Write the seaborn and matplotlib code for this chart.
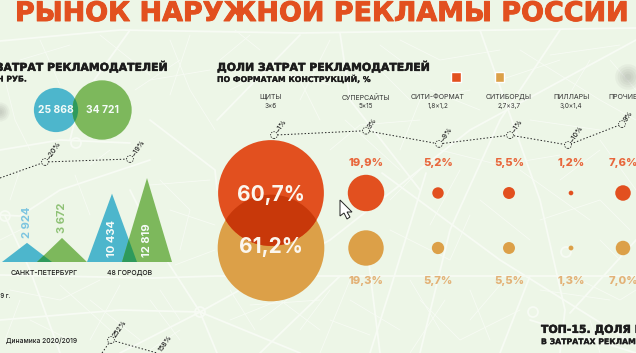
import matplotlib
matplotlib.use("Agg")
import matplotlib.pyplot as plt
from matplotlib.patches import Circle, Polygon
import matplotlib.patheffects as pe
import seaborn as sns
import pandas as pd

# ---- data ----
formats = ["ЩИТЫ", "СУПЕРСАЙТЫ", "СИТИ-ФОРМАТ", "СИТИБОРДЫ", "ПИЛЛАРЫ", "ПРОЧИЕ"]
format_sizes = ["3×6", "5×15", "1,8×1,2", "2,7×3,7", "3,0×1,4", ""]
share_2020 = [60.7, 19.9, 5.2, 5.5, 1.2, 7.6]
share_2019 = [61.2, 19.3, 5.7, 5.5, 1.3, 7.0]
format_change = [-1, 3, -9, -1, -10, 9]

total_spend = [25868, 34721]
cities = ["САНКТ-ПЕТЕРБУРГ", "48 ГОРОДОВ"]
city_2019 = [2924, 10434]
city_2020 = [3672, 12819]
spend_change = [-20, -19]

# ---- layout ----
ORANGE, GOLD, DARK_RED = "#E2501F", "#DCA048", "#C8380A"
TEAL, GREEN, DARK_GREEN = "#4DB6CC", "#7DB85C", "#2E9A5C"
BG, ROAD, INK = "#EDF6E7", "#F7FBF4", "#1C1C1C"
FONT = "Inter"
HEAD = "DejaVu Sans"
col_x = [271, 366, 438, 509, 571, 623]
top_y, low_y = 193, 248
city_x = [27, 112]
city_w, city_gap, base_y = 25, 35, 262

sns.set_theme(style="white")
plt.rcParams["font.family"] = [FONT, "DejaVu Sans"]
fig = plt.figure(figsize=(6.36, 3.53), dpi=100, facecolor=BG)
ax = fig.add_axes([0, 0, 1, 1])
ax.set_xlim(0, 636); ax.set_ylim(353, 0); ax.axis("off")

# ---- decorative street map ----
main_roads = [
    [(0, 41), (120, 30), (300, 33), (636, 28)], [(0, 150), (60, 140), (130, 143)],
    [(153, 278), (217, 276), (406, 276), (636, 276)], [(0, 275), (153, 278)],
    [(200, 312), (120, 353)], [(200, 312), (217, 353)], [(200, 312), (300, 353)],
    [(200, 312), (330, 240), (470, 130), (636, 40)], [(200, 312), (160, 250), (130, 190)],
    [(382, 173), (500, 260), (636, 345)], [(420, 353), (450, 230), (500, 120), (560, 30)],
    [(560, 353), (565, 310), (540, 200), (480, 30)], [(570, 313), (636, 240)],
    [(366, 240), (380, 353)], [(426, 173), (390, 290), (370, 353)],
    [(340, 33), (350, 100), (420, 190)], [(0, 215), (20, 216), (60, 190), (150, 160)],
    [(5, 216), (30, 270), (60, 353)], [(70, 140), (80, 100), (130, 30)],
    [(150, 120), (215, 170), (217, 190)], [(217, 120), (300, 35)], [(0, 320), (120, 310), (200, 312)],
    [(260, 353), (340, 276)], [(530, 320), (636, 353)], [(500, 353), (530, 276)],
]
minor_roads = [
    [(20, 60), (70, 45)], [(170, 40), (190, 90), (215, 130)], [(150, 80), (210, 70)],
    [(400, 40), (440, 60), (500, 50)], [(520, 50), (600, 100), (636, 120)], [(590, 60), (560, 110)],
    [(440, 150), (500, 165), (560, 155)], [(330, 150), (360, 125), (420, 120)], [(600, 140), (636, 190)],
    [(390, 230), (450, 260), (470, 215)], [(420, 300), (460, 340), (520, 310)], [(330, 290), (300, 330)],
    [(230, 320), (280, 300), (320, 330)], [(10, 290), (60, 300), (100, 280)], [(90, 300), (140, 340)],
    [(540, 220), (600, 200), (630, 230)], [(580, 280), (620, 300), (636, 290)], [(20, 300), (5, 340)],
    [(160, 180), (190, 210), (180, 250)], [(470, 290), (490, 340)], [(400, 150), (420, 100), (470, 90)],
    [(235, 30), (260, 50)], [(550, 55), (620, 45)], [(150, 300), (180, 340)], [(350, 300), (400, 330)],
    [(0, 60), (15, 120), (30, 150)], [(40, 40), (60, 85)], [(100, 35), (150, 75)], [(135, 90), (180, 60)],
    [(190, 35), (170, 95)], [(230, 90), (270, 70), (330, 85)], [(250, 35), (220, 60)], [(290, 60), (320, 120)],
    [(330, 40), (300, 100)], [(370, 60), (410, 100)], [(430, 90), (480, 110)], [(380, 45), (420, 75)],
    [(500, 80), (560, 60)], [(530, 120), (600, 130)], [(610, 60), (636, 90)], [(345, 120), (400, 170)],
    [(460, 170), (430, 225)], [(520, 170), (590, 220)], [(600, 150), (560, 180)], [(390, 200), (420, 170)],
    [(480, 200), (530, 240)], [(350, 280), (320, 353)], [(410, 280), (440, 330)], [(445, 300), (410, 353)],
    [(500, 285), (470, 320)], [(590, 320), (600, 353)], [(620, 260), (600, 240)], [(540, 290), (610, 300)],
    [(90, 165), (110, 150)], [(150, 185), (210, 180)], [(170, 210), (215, 225)], [(175, 265), (215, 250)],
    [(20, 170), (10, 200)], [(75, 175), (90, 215)], [(0, 240), (30, 225)], [(60, 285), (110, 330)],
    [(120, 285), (90, 340)], [(30, 320), (70, 340)], [(160, 290), (180, 320)], [(230, 290), (255, 330)],
    [(300, 290), (260, 320)], [(330, 320), (370, 335)], [(250, 305), (320, 300)], [(180, 330), (150, 350)],
]
for line, lw in [(r, 1.3) for r in main_roads] + [(r, 0.6) for r in minor_roads]:
    ax.plot(*zip(*line), color=ROAD, lw=lw, zorder=0, solid_capstyle="round")
for cx, cy in [(200, 312), (5, 216), (533, 312), (566, 252), (76, 143)]:
    ax.add_patch(Circle((cx, cy), 5, fc="none", ec=ROAD, lw=1.3, zorder=0))
# soft smudges at the edges of the screenshot
for sx, sy, scale in [(0, 112, 0.6), (628, 77, 0.8)]:
    for r in [16, 13, 10, 7, 4]:
        ax.add_patch(Circle((sx, sy), r * scale, fc="#555555", ec="none", alpha=0.05, zorder=1))


def txt(x, y, s, size, color=INK, weight="normal", ha="center", rot=0, va="center", bold=0, **kw):
    t = ax.text(x, y, s, fontsize=size, color=color, fontweight=weight, ha=ha, va=va,
                rotation=rot, rotation_mode="anchor", clip_on=False, zorder=6, **kw)
    if bold:
        t.set_path_effects([pe.withStroke(linewidth=bold, foreground=color)])
    return t


# ---- titles ----
txt(15, 14, "РЫНОК НАРУЖНОЙ РЕКЛАМЫ РОССИИ", 19.4, "#E2501F", "bold", "left", family=HEAD, bold=0.7)
txt(167, 67, "ЗАТРАТ РЕКЛАМОДАТЕЛЕЙ", 7.85, INK, "bold", "right", family=HEAD, bold=0.35)
txt(27, 79, "МЛН РУБ.", 5.6, INK, "bold", "right", family=HEAD, bold=0.15)
txt(217, 67, "ДОЛИ ЗАТРАТ РЕКЛАМОДАТЕЛЕЙ", 7.85, INK, "bold", "left", family=HEAD, bold=0.35)
txt(217, 79, "ПО ФОРМАТАМ КОНСТРУКЦИЙ, %", 5.6, INK, "bold", "left", family=HEAD, bold=0.15)
ax.add_patch(Polygon([(451, 72), (461, 72), (461, 82), (451, 82)], fc=ORANGE, zorder=3))
ax.add_patch(Polygon([(495, 72), (504, 72), (504, 82), (495, 82)], fc=GOLD, zorder=3))
txt(541, 329, "ТОП-15. ДОЛЯ РЕКЛАМОДАТЕЛЕЙ", 7.85, INK, "bold", "left", family=HEAD, bold=0.35)
txt(541, 341, "В ЗАТРАТАХ РЕКЛАМОДАТЕЛЕЙ", 5.6, INK, "bold", "left", family=HEAD, bold=0.15)
txt(6, 341, "Динамика 2020/2019", 4.8, INK, 500, "left")
txt(10, 296, "2019 г.", 4.4, INK, 500, "right")

# ---- left: totals as two overlapping circles ----
spend_d = [v * 0.00171 for v in total_spend]
spend_x = [56, 102]
sns.scatterplot(x=spend_x, y=[110, 110], s=[(d * 0.72) ** 2 for d in spend_d],
                c=[TEAL, GREEN], linewidth=0, ax=ax, zorder=2, legend=False)
c_a = Circle((spend_x[0], 110), spend_d[0] / 2, transform=ax.transData)
c_b = Circle((spend_x[1], 110), spend_d[1] / 2, fc=DARK_GREEN, ec="none", zorder=3)
ax.add_patch(c_b); c_b.set_clip_path(c_a)
txt(spend_x[0], 110, f"{total_spend[0]:,}".replace(",", " "), 7.4, "#F4FBF8", 700)
txt(spend_x[1], 110, f"{total_spend[1]:,}".replace(",", " "), 7.4, "#F4FBF8", 700)

# ---- left: cities as triangles ----
H = 0.00655
for i, name in enumerate(cities):
    x0 = city_x[i]; x1 = x0 + city_gap
    h0, h1 = city_2019[i] * H, city_2020[i] * H
    a = Polygon([(x0 - city_w, base_y), (x0, base_y - h0), (x0 + city_w, base_y)], fc=TEAL, ec="none", zorder=2)
    b = Polygon([(x1 - city_w, base_y), (x1, base_y - h1), (x1 + city_w, base_y)], fc=GREEN, ec="none", zorder=2)
    o = Polygon([(x1 - city_w, base_y), (x1, base_y - h1), (x1 + city_w, base_y)], fc=DARK_GREEN, ec="none", zorder=3)
    ax.add_patch(a); ax.add_patch(b); ax.add_patch(o); o.set_clip_path(a)
    txt((x0 + x1) / 2, 273, name, 5.0, INK, 500)
    big = city_2019[i] > 5000
    c0, c1 = ("#F6FBF8", "#F6FBF8") if big else ("#7CC5E0", "#8FC276")
    yb0, yb1 = (257, 257) if big else (238, 233)
    txt(x0, yb0, f"{city_2019[i]:,}".replace(",", " "), 8.0, c0, 700, "left", 90)
    txt(x1, yb1, f"{city_2020[i]:,}".replace(",", " "), 8.0, c1, 700, "left", 90)

# ---- right: bubbles ----
def diam(v):
    return 1.7 * v + 2.6

def pts2(v):
    return (diam(v) * 0.72) ** 2

df = pd.DataFrame({"x": col_x, "top": share_2020, "low": share_2019})
sns.scatterplot(data=df, x="x", y=[low_y] * 6, s=[pts2(v) for v in share_2019], color=GOLD,
                linewidth=0, ax=ax, zorder=2, legend=False)
sns.scatterplot(data=df, x="x", y=[top_y] * 6, s=[pts2(v) for v in share_2020], color=ORANGE,
                linewidth=0, ax=ax, zorder=2, legend=False)
clip = Circle((col_x[0], low_y), diam(share_2019[0]) / 2, transform=ax.transData)
ov = Circle((col_x[0], top_y), diam(share_2020[0]) / 2, fc=DARK_RED, ec="none", zorder=3)
ax.add_patch(ov); ov.set_clip_path(clip)
txt(col_x[0], top_y + 2, "60,7%", 15, "#FBF6EE", 700)
txt(col_x[0], low_y - 1, "61,2%", 15, "#FBF6EE", 700)

for i, name in enumerate(formats):
    if name == "ПРОЧИЕ":
        txt(608, 97, name, 5.0, "#333333", 400, "left")
    else:
        txt(col_x[i], 97, name, 5.0, "#333333", 400)
        txt(col_x[i], 106, format_sizes[i], 4.6, "#333333", 400)
    if i:
        txt(col_x[i], 163, f"{share_2020[i]:.1f}%".replace(".", ","), 8.0, "#E8673C", 800)
        txt(col_x[i], 281, f"{share_2019[i]:.1f}%".replace(".", ","), 8.0, "#E3B277", 800)

# ---- dynamics: dotted lines with hollow nodes ----
def dotted(xs, ys, labels, dx=3, dy=-3):
    sns.lineplot(x=xs, y=ys, sort=False, estimator=None, color="#222222", lw=0.7, ax=ax, zorder=4,
                 linestyle=(0, (1.5, 2)))
    for x, y, s in labels:
        ax.scatter([x], [y], s=24, fc=BG, ec="#222222", lw=0.6, linestyle=(0, (1.5, 1.5)), zorder=5)
        txt(x + dx, y + dy, s, 5.0, "#222222", 500, "left", 55)

y_change = [134 - 1.1 * v for v in format_change]
node_x = [274, 366, 439, 510, 568, 622]
dotted(node_x, y_change,
       [(x, y, f"−{abs(v)}%" if v < 0 else f"{v}%") for x, y, v in zip(node_x, y_change, format_change)])
dotted([0, 45, 130], [178, 162, 159],
       [(45, 162, f"−{abs(spend_change[0])}%"), (130, 159, f"−{abs(spend_change[1])}%")])
dotted([102, 111, 157], [353, 340, 353], [(111, 340, "252%")])
txt(160, 351, "158%", 5.0, "#222222", 500, "left", 55)

# ---- screen cursor ----
ax.add_patch(Polygon([(340, 200), (340, 216), (344, 213), (347, 219), (350, 217), (347, 212), (352, 212)],
                     fc="white", ec="#222222", lw=0.7, zorder=7))

fig.savefig("out.png", dpi=100, facecolor=BG)
